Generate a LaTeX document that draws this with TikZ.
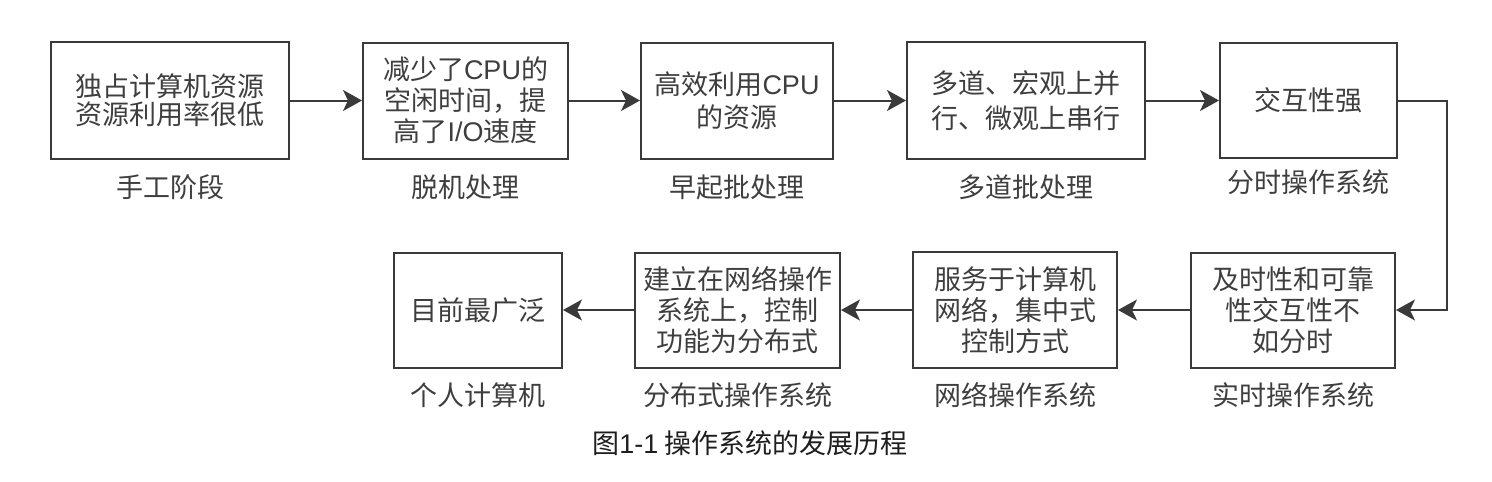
\documentclass[tikz,border=0pt]{standalone}
\usepackage{fontspec}
\setmainfont{Noto Sans CJK SC}
\newfontfamily\latin{Liberation Sans}
\usetikzlibrary{arrows.meta}
\definecolor{ln}{HTML}{3A3A3A}
\definecolor{tx}{HTML}{3E3E3E}
\definecolor{cap}{HTML}{1E1E1E}
\begin{document}
\begin{tikzpicture}[x=1pt,y=-1pt,
  stagebox/.style={draw=ln,line width=2pt,inner sep=0pt,align=center,text=tx,
    font=\fontsize{27}{31}\selectfont},
  stagelabel/.style={inner sep=0pt,text=tx,font=\fontsize{27}{31}\selectfont},
  arr/.style={draw=ln,line width=2pt,-{Stealth[length=19pt,width=21pt,inset=5pt]}}]
\path[use as bounding box] (0,0) rectangle (1492,482);
% top row
\node[stagebox,minimum width=238pt,minimum height=117pt,font=\fontsize{27}{28}\selectfont] (b1) at (170,100.5) {独占计算机资源\\资源利用率很低};
\node[stagebox,minimum width=205pt,minimum height=116pt] (b2) at (465.5,100.5) {减少了{\latin CPU}的\\空闲时间，提\\高了{\latin I/O}速度};
\node[stagebox,minimum width=192pt,minimum height=116pt,font=\fontsize{27}{33}\selectfont] (b3) at (737,100.5) {高效利用{\latin CPU}\\的资源};
\node[stagebox,minimum width=238pt,minimum height=117pt,font=\fontsize{27}{35}\selectfont] (b4) at (1026,100.5) {多道、宏观上并\\行、微观上串行};
\node[stagebox,minimum width=177pt,minimum height=115pt] (b5) at (1308.5,100.5) {交互性强};
% bottom row
\node[stagebox,minimum width=204pt,minimum height=115pt] (b6) at (1293,310) {及时性和可靠\\性交互性不\\如分时};
\node[stagebox,minimum width=204pt,minimum height=116pt] (b7) at (1015,310) {服务于计算机\\网络，集中式\\控制方式};
\node[stagebox,minimum width=205pt,minimum height=115pt] (b8) at (737.5,310) {建立在网络操作\\系统上，控制\\功能为分布式};
\node[stagebox,minimum width=168pt,minimum height=115pt] (b9) at (478,310) {目前最广泛};
% labels
\node[stagelabel] (l1) at (170,187) {手工阶段};
\node[stagelabel] (l2) at (465.5,187) {脱机处理};
\node[stagelabel] (l3) at (737,187) {早起批处理};
\node[stagelabel] (l4) at (1026,187) {多道批处理};
\node[stagelabel] (l5) at (1308.5,182) {分时操作系统};
\node[stagelabel] (l6) at (1293,395) {实时操作系统};
\node[stagelabel] (l7) at (1015,395) {网络操作系统};
\node[stagelabel] (l8) at (737.5,395) {分布式操作系统};
\node[stagelabel] (l9) at (478,395) {个人计算机};
\node[inner sep=0pt,text=cap,font=\fontsize{27}{31}\selectfont] (caption) at (750,443) {图{\latin 1-1} 操作系统的发展历程};
% connectors
\draw[arr] (b1.east) -- (b2.west);
\draw[arr] (b2.east) -- (b3.west);
\draw[arr] (b3.east) -- (b4.west);
\draw[arr] (b4.east) -- (b5.west);
\coordinate (turn) at (1447,310);
\draw[arr] (b5.east) -| (turn) -- (b6.east);
\draw[arr] (b6.west) -- (b7.east);
\draw[arr] (b7.west) -- (b8.east);
\draw[arr] (b8.west) -- (b9.east);
\end{tikzpicture}
\end{document}
